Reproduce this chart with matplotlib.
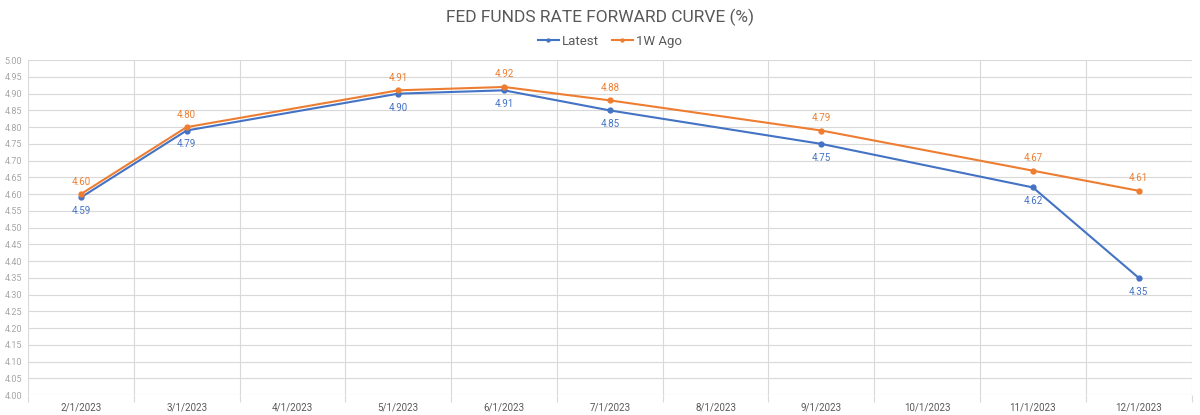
import numpy as np
import matplotlib.pyplot as plt
from matplotlib.ticker import MultipleLocator, FixedLocator

# categories on the x axis (every month, some without data)
categories = ['2/1/2023', '3/1/2023', '4/1/2023', '5/1/2023', '6/1/2023', '7/1/2023',
              '8/1/2023', '9/1/2023', '10/1/2023', '11/1/2023', '12/1/2023']

# dates that have data
dates = ['2/1/2023', '3/1/2023', '5/1/2023', '6/1/2023', '7/1/2023',
         '9/1/2023', '11/1/2023', '12/1/2023']
latest = [4.59, 4.79, 4.90, 4.91, 4.85, 4.75, 4.62, 4.35]
week_ago = [4.60, 4.80, 4.91, 4.92, 4.88, 4.79, 4.67, 4.61]

BLUE = '#4472C4'
ORANGE = '#ED7D31'
GRID = '#D9D9D9'
TXT = '#A6A6A6'

plt.rcParams['font.family'] = ['Roboto', 'DejaVu Sans']

fig = plt.figure(figsize=(12, 4.15), dpi=100)
ax = fig.add_axes([0.0233, 0.048, 0.9697, 0.807])

x = [categories.index(d) for d in dates]

ax.plot(x, latest, color=BLUE, lw=1.5, marker='o', ms=3.5, label='Latest', zorder=3)
ax.plot(x, week_ago, color=ORANGE, lw=1.5, marker='o', ms=3.5, label='1W Ago', zorder=3)

for xi, v in zip(x, latest):
    ax.annotate(f'{v:.2f}', (xi, v), xytext=(0, -10), textcoords='offset points',
                ha='center', va='center', fontsize=7, color=BLUE)
for xi, v in zip(x, week_ago):
    ax.annotate(f'{v:.2f}', (xi, v), xytext=(0, 9), textcoords='offset points',
                ha='center', va='center', fontsize=7, color=ORANGE)

ax.set_xlim(-0.5, len(categories) - 0.5)
ax.set_ylim(4.0, 5.0)
ax.yaxis.set_major_locator(MultipleLocator(0.05))
ax.yaxis.set_major_formatter(plt.FuncFormatter(lambda v, p: f'{v:.2f}'))
ax.set_xticks(range(len(categories)))
ax.set_xticklabels(categories)
ax.xaxis.set_minor_locator(FixedLocator(np.arange(-0.5, len(categories), 1.0)))

ax.tick_params(axis='x', which='major', length=0, labelsize=7, labelcolor='#595959', pad=5)
ax.tick_params(axis='x', which='minor', length=5, color=GRID, width=0.8)
ax.tick_params(axis='y', length=0, labelsize=6.5, labelcolor=TXT, pad=4)

ax.grid(axis='y', which='major', color=GRID, lw=0.8)
ax.grid(axis='x', which='minor', color=GRID, lw=0.8)
ax.grid(axis='x', which='major', visible=False)
for s in ax.spines.values():
    s.set_visible(False)
ax.set_axisbelow(True)

fig.text(0.5, 0.958, 'FED FUNDS RATE FORWARD CURVE (%)', ha='center', va='center',
         fontsize=12.5, color='#595959')
ax.legend(loc='center', bbox_to_anchor=(0.5, 1.057), ncol=2, frameon=False,
          fontsize=9.5, labelcolor='#595959', handlelength=1.6, handletextpad=0.2,
          columnspacing=1.0, markerscale=0.6)

fig.savefig('out.png', dpi=100, facecolor='white')
